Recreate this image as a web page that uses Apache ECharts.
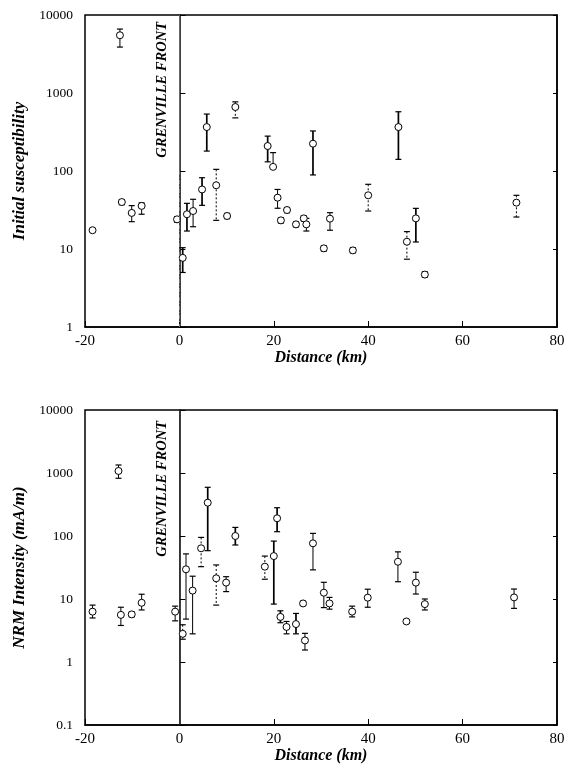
<!DOCTYPE html>
<html><head><meta charset="utf-8">
<script src="https://cdn.jsdelivr.net/npm/echarts@6/dist/echarts.min.js"></script>
<style>html,body{margin:0;padding:0;background:#fff}#c{width:571px;height:773px}</style>
</head><body><div id="c"></div>
<script>
// ---- Top panel: Initial susceptibility ----
const topDist  = [-18.4, -12.6, -12.2, -10.1, -8.0, -0.5, 0.7, 1.6, 2.9, 4.8, 5.8, 7.8, 10.1, 11.85, 18.7, 19.85, 20.8, 21.5, 22.8, 24.7, 26.35, 26.9, 28.3, 30.6, 31.9, 36.75, 40.0, 46.4, 48.2, 50.1, 52.0, 71.4];
const topValue = [17.4, 5500, 40, 29, 35.7, 24, 7.7, 27.9, 30.7, 58, 366, 65.6, 26.5, 661, 209, 113, 45.5, 23.3, 31.6, 20.7, 24.7, 20.7, 224, 10.2, 24.5, 9.6, 48.8, 366, 12.4, 24.7, 4.7, 39.3];
const topLow   = [17.4, 3880, 37, 22.4, 27.9, 22, 5.0, 17, 19.3, 36.3, 180, 23.3, 24.5, 480, 131, 113, 33.3, 21.5, 29.2, 19.2, 22.8, 17, 89, 9.4, 17.4, 8.9, 30.7, 141, 7.4, 12.3, 4.35, 25.7];
const topHigh  = [17.4, 6600, 43, 36, 39, 26, 10.4, 38.5, 43.4, 82, 537, 105, 28.6, 770, 280, 172, 58, 25.2, 34, 22.3, 26.6, 24.7, 326, 11, 29.2, 10.4, 67.5, 575, 16.7, 33.2, 5.1, 48.8];
const topBarStyle = ['s','s','s','s','s','s','b','b','s','b','b','d','s','d','b','s','s','s','s','s','s','s','b','s','s','s','d','b','d','b','s','d'];

// ---- Bottom panel: NRM intensity (mA/m) ----
const botDist  = [-18.4, -12.9, -12.4, -10.1, -8.0, -0.9, 0.7, 1.4, 2.8, 4.6, 6.0, 7.8, 9.9, 11.85, 18.1, 20.0, 20.7, 21.4, 22.7, 24.7, 26.2, 26.6, 28.3, 30.6, 31.8, 36.6, 39.9, 46.3, 48.1, 50.1, 52.0, 70.9];
const botValue = [6.3, 1077, 5.6, 5.7, 8.7, 6.3, 2.8, 29.6, 13.6, 63.8, 338, 21.3, 18.2, 100, 32.6, 48, 191, 5.2, 3.6, 4.0, 8.5, 2.2, 76.5, 12.6, 8.5, 6.3, 10.5, 39, 4.4, 18.2, 8.3, 10.6];
const botLow   = [5.0, 825, 3.8, 5.2, 6.7, 4.5, 2.3, 4.8, 2.8, 32.6, 58.5, 8.0, 13.1, 72, 20.6, 8.3, 117, 4.2, 2.8, 2.8, 7.9, 1.55, 29, 7.3, 6.9, 5.2, 7.4, 18.8, 4.1, 12, 6.7, 7.1];
const botHigh  = [8.0, 1340, 7.4, 6.2, 11.9, 7.7, 3.9, 52, 23, 95, 593, 34.7, 22.6, 137, 48, 83, 281, 6.5, 4.4, 5.9, 9.2, 2.85, 110, 18.4, 10.6, 7.7, 14.3, 56, 4.7, 26.6, 10, 14.4];
const botBarStyle = ['s','s','s','s','s','s','d','s','s','d','b','d','s','b','d','b','b','b','s','b','s','s','s','s','s','s','s','s','s','s','s','s'];

const xTicks = [-20, 0, 20, 40, 60, 80];
const topYRange = [1, 10000];
const botYRange = [0.1, 10000];

const SERIF = "'Liberation Serif','Times New Roman',serif";

function errRender(styles) {
  return function (params, api) {
    const x = api.value(0), lo = api.value(1), hi = api.value(2);
    if (lo === hi) return null;
    const st = styles[params.dataIndex];
    const p1 = api.coord([x, hi]), p2 = api.coord([x, lo]);
    const w = 3;
    const lineStyle = {stroke: '#000', lineWidth: st === 'b' ? 1.7 : 1, lineDash: st === 'd' ? [2, 2] : null};
    const cap = {stroke: '#000', lineWidth: 1.2};
    return {type: 'group', children: [
      {type: 'line', shape: {x1: p1[0], y1: p1[1], x2: p2[0], y2: p2[1]}, style: lineStyle},
      {type: 'line', shape: {x1: p1[0] - w, y1: p1[1], x2: p1[0] + w, y2: p1[1]}, style: cap},
      {type: 'line', shape: {x1: p2[0] - w, y1: p2[1], x2: p2[0] + w, y2: p2[1]}, style: cap}
    ]};
  };
}

function xAxisFor(gi) {
  return {
    type: 'value', gridIndex: gi, min: xTicks[0], max: xTicks[xTicks.length - 1], interval: 20,
    name: 'Distance (km)', nameLocation: 'middle', nameGap: 23,
    nameTextStyle: {fontFamily: SERIF, fontSize: 16, fontWeight: 'bold', fontStyle: 'italic', color: '#000'},
    axisLine: {onZero: false, lineStyle: {color: '#000', width: 1.5}},
    axisTick: {inside: true, length: 6, lineStyle: {color: '#000'}},
    axisLabel: {fontFamily: SERIF, fontSize: 15, color: '#000', margin: 7},
    splitLine: {show: false}
  };
}
function yAxisFor(gi, range, name) {
  return {
    type: 'log', logBase: 10, gridIndex: gi, min: range[0], max: range[1],
    name: name, nameLocation: 'middle', nameGap: 57,
    nameTextStyle: {fontFamily: SERIF, fontSize: 17, fontWeight: 'bold', fontStyle: 'italic', color: '#000'},
    axisLine: {lineStyle: {color: '#000', width: 1.5}},
    axisTick: {inside: true, length: 6, lineStyle: {color: '#000'}},
    axisLabel: {fontFamily: SERIF, fontSize: 13.5, color: '#000', margin: 12, formatter: v => String(v)},
    splitLine: {show: false}
  };
}
function yRightFor(gi, range) {
  return {
    type: 'log', logBase: 10, gridIndex: gi, min: range[0], max: range[1], position: 'right',
    axisLine: {lineStyle: {color: '#000', width: 1.5}},
    axisTick: {inside: true, length: 4, lineStyle: {color: '#000'}},
    axisLabel: {show: false}, splitLine: {show: false}
  };
}

const chart = echarts.init(document.getElementById('c'), null, {renderer: 'canvas'});
chart.setOption({
  backgroundColor: '#fff',
  animation: false,
  grid: [
    {left: 85, right: 14, top: 15, height: 312, show: true, borderColor: '#000', borderWidth: 1.5},
    {left: 85, right: 14, top: 410, height: 315, show: true, borderColor: '#000', borderWidth: 1.5}
  ],
  xAxis: [xAxisFor(0), xAxisFor(1)],
  yAxis: [
    yAxisFor(0, topYRange, 'Initial susceptibility'),
    yAxisFor(1, botYRange, 'NRM Intensity (mA/m)'),
    yRightFor(0, topYRange),
    yRightFor(1, botYRange)
  ],
  graphic: [
    {type: 'text', left: 155, top: 22, rotation: Math.PI / 2, style: {text: 'GRENVILLE FRONT', font: "italic bold 14.5px 'Liberation Serif', serif", fill: '#000'}},
    {type: 'text', left: 155, top: 421, rotation: Math.PI / 2, style: {text: 'GRENVILLE FRONT', font: "italic bold 14.5px 'Liberation Serif', serif", fill: '#000'}}
  ],
  series: [
    {
      type: 'custom', xAxisIndex: 0, yAxisIndex: 0, z: 3,
      renderItem: errRender(topBarStyle),
      data: topDist.map((d, i) => [d, topLow[i], topHigh[i]])
    },
    {
      type: 'scatter', xAxisIndex: 0, yAxisIndex: 0, z: 4,
      symbol: 'circle', symbolSize: 7,
      itemStyle: {color: '#fff', borderColor: '#000', borderWidth: 1, opacity: 1},
      data: topDist.map((d, i) => [d, topValue[i]]),
      markLine: {
        silent: true, symbol: 'none', label: {show: false},
        data: [
          [{coord: [0, 10000], lineStyle: {color: '#666', width: 1, type: 'solid'}}, {coord: [0, 100]}],
          [{coord: [0, 100], lineStyle: {color: '#777', width: 1, type: [4, 2, 1, 2]}}, {coord: [0, 1]}]
        ]
      }
    },
    {
      type: 'custom', xAxisIndex: 1, yAxisIndex: 1, z: 3,
      renderItem: errRender(botBarStyle),
      data: botDist.map((d, i) => [d, botLow[i], botHigh[i]])
    },
    {
      type: 'scatter', xAxisIndex: 1, yAxisIndex: 1, z: 4,
      symbol: 'circle', symbolSize: 7,
      itemStyle: {color: '#fff', borderColor: '#000', borderWidth: 1, opacity: 1},
      data: botDist.map((d, i) => [d, botValue[i]]),
      markLine: {
        silent: true, symbol: 'none', label: {show: false},
        data: [
          [{coord: [0, 10000], lineStyle: {color: '#333', width: 1, type: 'solid'}}, {coord: [0, 0.1]}]
        ]
      }
    }
  ]
});
</script>
</body></html>
